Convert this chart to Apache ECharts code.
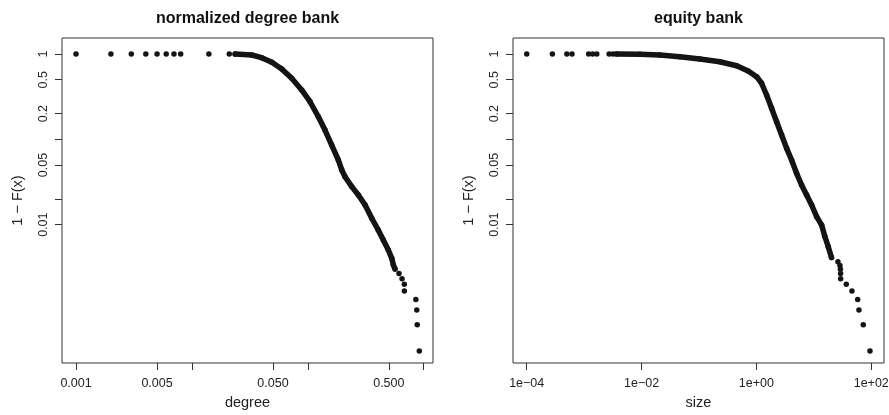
<!DOCTYPE html>
<html>
<head>
<meta charset="utf-8">
<script src="https://cdn.jsdelivr.net/npm/echarts@6/dist/echarts.min.js"></script>
<style>
html,body{margin:0;padding:0;background:#fff}
#chart{width:889px;height:415px}
</style>
</head>
<body>
<div id="chart"></div>
<script>
// left panel: normalized degree bank (1 - F(x) vs degree)
var degreeHeadX = [0.001, 0.002, 0.003, 0.004, 0.005, 0.006, 0.007, 0.008, 0.014, 0.021];
var degreeHeadY = [1, 1, 1, 1, 1, 1, 1, 1, 0.999, 0.998];
var degreeCurveX = [0.0236, 0.0328, 0.0400, 0.0489, 0.0596, 0.0726, 0.0885, 0.1045, 0.1233, 0.1406, 0.1607, 0.1832, 0.1963, 0.2094, 0.2393, 0.273, 0.312, 0.356, 0.405, 0.448, 0.495, 0.530, 0.547, 0.565];
var degreeCurveY = [0.997, 0.973, 0.905, 0.799, 0.667, 0.519, 0.379, 0.276, 0.184, 0.1286, 0.0858, 0.0573, 0.0437, 0.0365, 0.0279, 0.0223, 0.0170, 0.0119, 0.00866, 0.0066, 0.00504, 0.00403, 0.00337, 0.00302];
var degreeTailX = [0.612, 0.650, 0.680, 0.681, 0.855, 0.871, 0.879, 0.916];
var degreeTailY = [0.00267, 0.00233, 0.0020, 0.00167, 0.00133, 0.0010, 0.00067, 0.00033];

// right panel: equity bank (1 - F(x) vs size)
var equityHeadX = [1e-4, 2.8e-4, 5.0e-4, 6.15e-4, 1.2e-3, 1.41e-3, 1.66e-3, 2.72e-3, 3.19e-3];
var equityHeadY = [1, 1, 1, 1, 1, 1, 1, 1, 1];
var equityCurveX = [3.66e-3, 0.0093, 0.0208, 0.0463, 0.1035, 0.231, 0.452, 0.719, 1.008, 1.231, 1.504, 1.839, 2.248, 2.748, 3.36, 4.10, 5.01, 6.12, 7.49, 9.16, 11.19, 13.68, 15.61, 17.81, 20.3];
var equityCurveY = [0.999, 0.995, 0.973, 0.930, 0.874, 0.812, 0.729, 0.632, 0.542, 0.454, 0.331, 0.231, 0.161, 0.1125, 0.0785, 0.0573, 0.040, 0.0292, 0.0223, 0.0170, 0.0124, 0.0099, 0.00722, 0.00552, 0.00412];
var equityTailX = [26.3, 28.5, 29.0, 29.2, 29.3, 36.7, 46.1, 58.0, 61.1, 72.6, 95.0];
var equityTailY = [0.00367, 0.00333, 0.0030, 0.00267, 0.00233, 0.0020, 0.00167, 0.00133, 0.0010, 0.00067, 0.00033];

// tick marks and labels (R style log axes)
var degreeTicks = [0.001, 0.005, 0.01, 0.05, 0.1, 0.5, 1];
var degreeLabels = ['0.001', '0.005', '', '0.050', '', '0.500', ''];
var sizeTicks = [1e-4, 1e-2, 1, 1e2];
var sizeLabels = ['1e\u221204', '1e\u221202', '1e+00', '1e+02'];
var probTicks = [1, 0.5, 0.2, 0.1, 0.05, 0.02, 0.01];
var probLabels = ['1', '0.5', '0.2', '', '0.05', '', '0.01'];

var ink = '#141414';
var fontFam = 'Liberation Sans, Arial, Helvetica, sans-serif';

function pts(xs, ys) {
	return xs.map(function (x, i) { return [Math.log10(x), Math.log10(ys[i])]; });
}

// 封装的对数坐标轴
function logAxis(ticks, labels, min, max, opt) {
	var tickVals = ticks.map(function (t) { return Math.log10(t); });
	var labelVals = tickVals.filter(function (v, i) { return labels[i] !== ''; });
	var axis = {
		type: 'value',
		min: min,
		max: max,
		splitLine: { show: false },
		axisLine: { show: false, onZero: false },
		axisTick: {
			show: true,
			length: 7,
			customValues: tickVals,
			lineStyle: { color: '#333', width: 1 }
		},
		axisLabel: {
			customValues: labelVals,
			margin: 14,
			color: '#222',
			fontSize: 12.5,
			fontFamily: fontFam,
			formatter: function (v) {
				for (var i = 0; i < tickVals.length; i++) {
					if (Math.abs(tickVals[i] - v) < 1e-6) return labels[i];
				}
				return '';
			}
		},
		nameLocation: 'middle',
		nameTextStyle: { color: '#222', fontSize: 14.5, fontFamily: fontFam }
	};
	for (var k in opt) axis[k] = opt[k];
	return axis;
}

var chart = echarts.init(document.getElementById('chart'));

function yAxisFor(idx) {
	var a = logAxis(probTicks, probLabels, -3.621, 0.1875, {
		gridIndex: idx,
		name: '1 \u2212 F(x)',
		nameGap: 37
	});
	a.axisLabel.rotate = 90;
	a.axisLabel.margin = 12;
	return a;
}

function dense(idx, data) {
	return {
		type: 'line',
		xAxisIndex: idx,
		yAxisIndex: idx,
		data: data,
		showSymbol: false,
		silent: true,
		z: 2,
		lineStyle: { color: ink, width: 5.5, cap: 'round', join: 'round', opacity: 1 }
	};
}

function dots(idx, data) {
	return {
		type: 'scatter',
		xAxisIndex: idx,
		yAxisIndex: idx,
		data: data,
		symbol: 'circle',
		symbolSize: 5.5,
		silent: true,
		z: 3,
		itemStyle: { color: ink, opacity: 1 }
	};
}

var option = {
	animation: false,
	backgroundColor: '#fff',
	title: [
		{ text: 'normalized degree bank', left: 247.5, top: 11, padding: 0, textAlign: 'center',
		  textStyle: { fontSize: 16, fontWeight: 'bold', color: '#111', fontFamily: fontFam } },
		{ text: 'equity bank', left: 698.5, top: 11, padding: 0, textAlign: 'center',
		  textStyle: { fontSize: 16, fontWeight: 'bold', color: '#111', fontFamily: fontFam } }
	],
	grid: [
		{ left: 62, top: 38, width: 371, height: 325, show: true, borderColor: '#333', borderWidth: 1, outerBoundsMode: 'none' },
		{ left: 513, top: 38, width: 371, height: 325, show: true, borderColor: '#333', borderWidth: 1, outerBoundsMode: 'none' }
	],
	xAxis: [
		logAxis(degreeTicks, degreeLabels, -3.121, 0.080, { gridIndex: 0, name: 'degree', nameGap: 32 }),
		logAxis(sizeTicks, sizeLabels, -4.239, 2.222, { gridIndex: 1, name: 'size', nameGap: 32 })
	],
	yAxis: [yAxisFor(0), yAxisFor(1)],
	series: [
		dense(0, pts(degreeCurveX, degreeCurveY)),
		dots(0, pts(degreeHeadX, degreeHeadY)
			.concat(pts(degreeCurveX, degreeCurveY))
			.concat(pts(degreeTailX, degreeTailY))),
		dense(1, pts(equityCurveX, equityCurveY)),
		dots(1, pts(equityHeadX, equityHeadY)
			.concat(pts(equityCurveX, equityCurveY))
			.concat(pts(equityTailX, equityTailY)))
	]
};
chart.setOption(option);
</script>
</body>
</html>
